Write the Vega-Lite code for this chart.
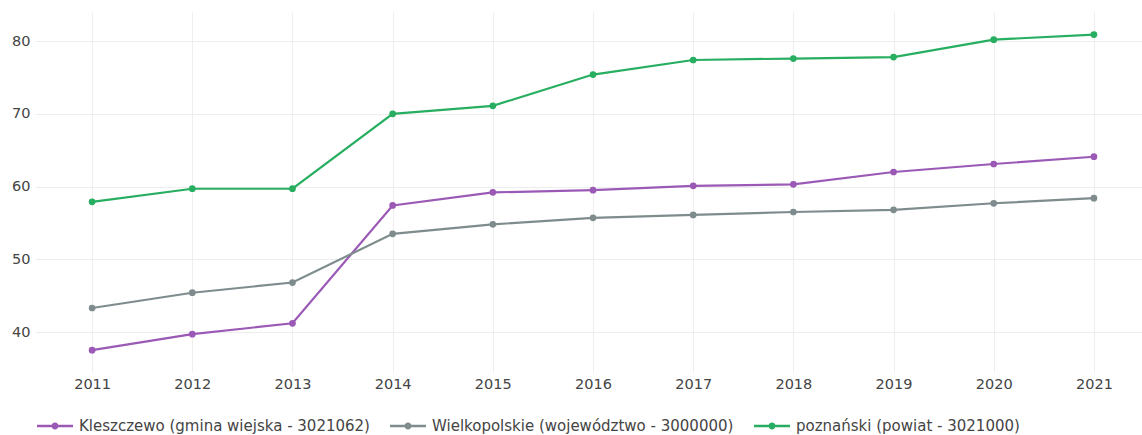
{
  "$schema": "https://vega.github.io/schema/vega-lite/v6.json",
  "width": 1107,
  "height": 360,
  "autosize": {"type": "none"},
  "padding": {"left": 35, "top": 12, "right": 0, "bottom": 63},
  "background": "white",
  "config": {
    "view": {"stroke": null},
    "font": "DejaVu Sans",
    "axis": {"gridColor": "#eeeeee", "gridWidth": 1, "domain": false, "ticks": false, "labelColor": "#444444", "labelFontSize": 14.5, "labelFont": "DejaVu Sans", "title": null}
  },
  "data": {
    "values": [
      {"year": 2011, "series": "Kleszczewo (gmina wiejska - 3021062)", "v": 37.5},
      {"year": 2012, "series": "Kleszczewo (gmina wiejska - 3021062)", "v": 39.7},
      {"year": 2013, "series": "Kleszczewo (gmina wiejska - 3021062)", "v": 41.2},
      {"year": 2014, "series": "Kleszczewo (gmina wiejska - 3021062)", "v": 57.4},
      {"year": 2015, "series": "Kleszczewo (gmina wiejska - 3021062)", "v": 59.2},
      {"year": 2016, "series": "Kleszczewo (gmina wiejska - 3021062)", "v": 59.5},
      {"year": 2017, "series": "Kleszczewo (gmina wiejska - 3021062)", "v": 60.1},
      {"year": 2018, "series": "Kleszczewo (gmina wiejska - 3021062)", "v": 60.3},
      {"year": 2019, "series": "Kleszczewo (gmina wiejska - 3021062)", "v": 62.0},
      {"year": 2020, "series": "Kleszczewo (gmina wiejska - 3021062)", "v": 63.1},
      {"year": 2021, "series": "Kleszczewo (gmina wiejska - 3021062)", "v": 64.1},
      {"year": 2011, "series": "Wielkopolskie (województwo - 3000000)", "v": 43.3},
      {"year": 2012, "series": "Wielkopolskie (województwo - 3000000)", "v": 45.4},
      {"year": 2013, "series": "Wielkopolskie (województwo - 3000000)", "v": 46.8},
      {"year": 2014, "series": "Wielkopolskie (województwo - 3000000)", "v": 53.5},
      {"year": 2015, "series": "Wielkopolskie (województwo - 3000000)", "v": 54.8},
      {"year": 2016, "series": "Wielkopolskie (województwo - 3000000)", "v": 55.7},
      {"year": 2017, "series": "Wielkopolskie (województwo - 3000000)", "v": 56.1},
      {"year": 2018, "series": "Wielkopolskie (województwo - 3000000)", "v": 56.5},
      {"year": 2019, "series": "Wielkopolskie (województwo - 3000000)", "v": 56.8},
      {"year": 2020, "series": "Wielkopolskie (województwo - 3000000)", "v": 57.7},
      {"year": 2021, "series": "Wielkopolskie (województwo - 3000000)", "v": 58.4},
      {"year": 2011, "series": "poznański (powiat - 3021000)", "v": 57.9},
      {"year": 2012, "series": "poznański (powiat - 3021000)", "v": 59.7},
      {"year": 2013, "series": "poznański (powiat - 3021000)", "v": 59.7},
      {"year": 2014, "series": "poznański (powiat - 3021000)", "v": 70.0},
      {"year": 2015, "series": "poznański (powiat - 3021000)", "v": 71.1},
      {"year": 2016, "series": "poznański (powiat - 3021000)", "v": 75.4},
      {"year": 2017, "series": "poznański (powiat - 3021000)", "v": 77.4},
      {"year": 2018, "series": "poznański (powiat - 3021000)", "v": 77.6},
      {"year": 2019, "series": "poznański (powiat - 3021000)", "v": 77.8},
      {"year": 2020, "series": "poznański (powiat - 3021000)", "v": 80.2},
      {"year": 2021, "series": "poznański (powiat - 3021000)", "v": 80.9}
    ]
  },
  "encoding": {
    "x": {"field": "year", "type": "quantitative", "scale": {"domain": [2010.43, 2021.48], "nice": false, "zero": false}, "axis": {"values": [2011, 2012, 2013, 2014, 2015, 2016, 2017, 2018, 2019, 2020, 2021], "format": "d", "labelPadding": 5}},
    "y": {"field": "v", "type": "quantitative", "scale": {"domain": [34.5, 84], "nice": false, "zero": false}, "axis": {"values": [40, 50, 60, 70, 80], "labelPadding": 5}},
    "color": {
      "field": "series", "type": "nominal",
      "scale": {"domain": ["Kleszczewo (gmina wiejska - 3021062)", "Wielkopolskie (województwo - 3000000)", "poznański (powiat - 3021000)"], "range": ["#9b59b6", "#7f8c8d", "#27ae60"]},
      "legend": {
        "orient": "none", "legendX": 2, "legendY": 396, "direction": "horizontal", "title": null,
        "labelFont": "DejaVu Sans", "labelFontSize": 15, "labelColor": "#444444", "labelLimit": 0,
        "symbolType": "M-1,-0.07H1V0.07H-1Z M0.19,0 A0.19,0.19 0 1,1 -0.19,0 A0.19,0.19 0 1,1 0.19,0 Z",
        "symbolSize": 1296, "symbolStrokeWidth": 0, "labelOffset": 6, "columnPadding": 20,
        "encode": {"symbols": {"update": {"fill": {"scale": "color", "field": "value"}, "opacity": {"value": 1}}}}
      }
    }
  },
  "layer": [
    {"mark": {"type": "line", "strokeWidth": 2.2}},
    {"mark": {"type": "point", "filled": true, "opacity": 1, "size": 45}}
  ]
}
